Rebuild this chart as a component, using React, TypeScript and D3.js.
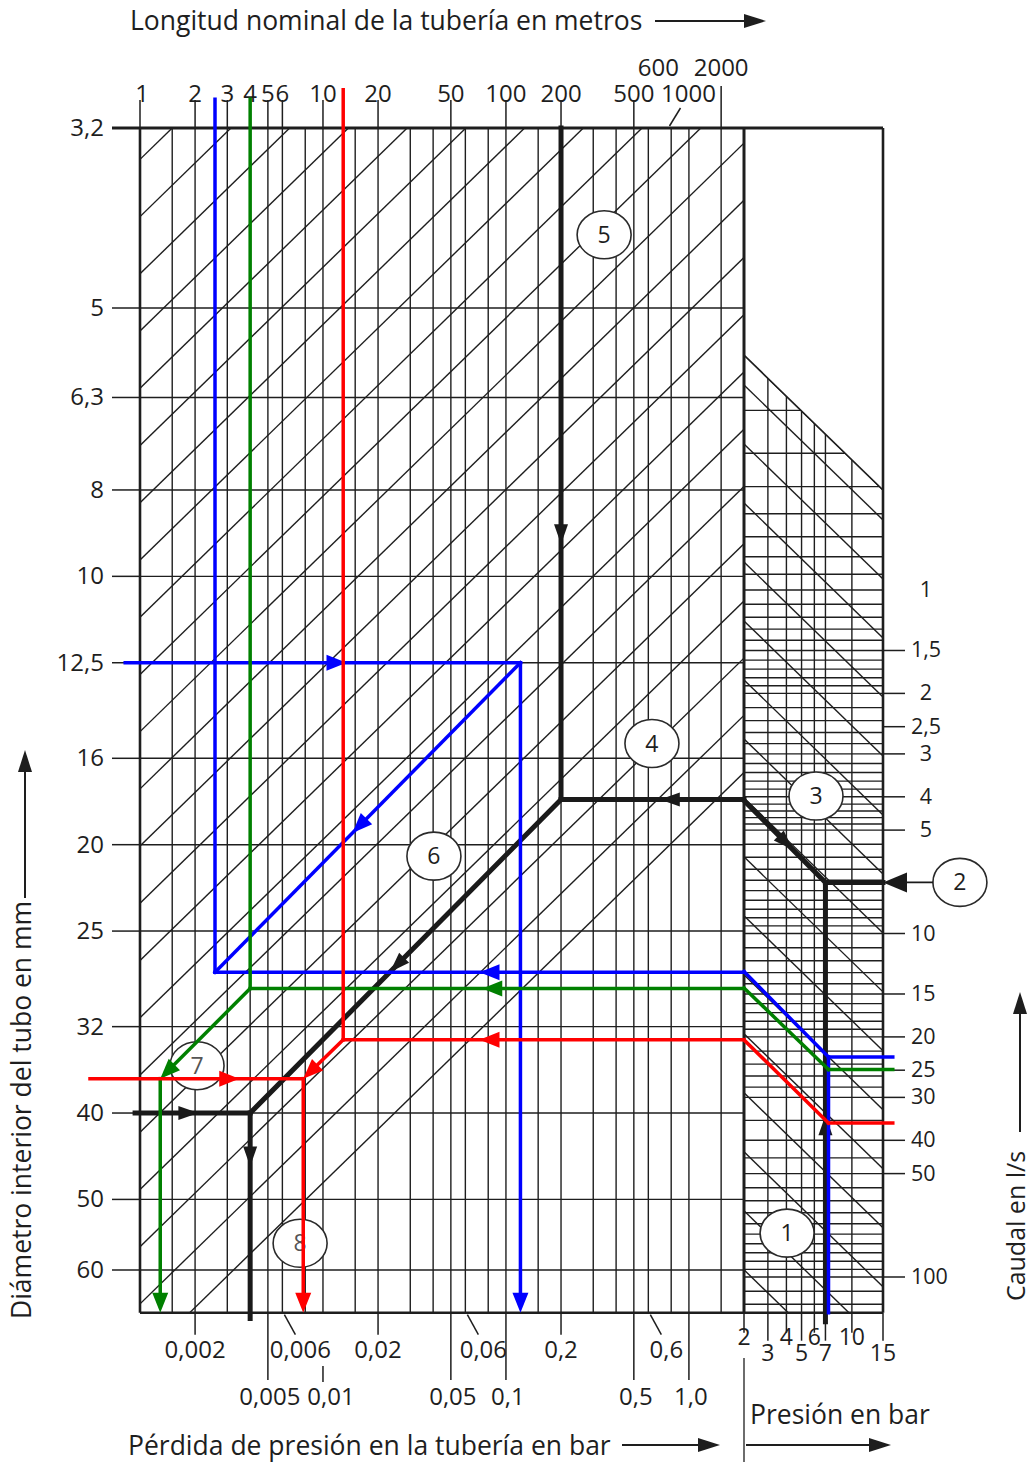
import React, { useEffect, useRef } from 'react';
import * as d3 from 'd3';

// left axis: inner pipe diameter in mm
const diameters = [3.2, 5, 6.3, 8, 10, 12.5, 16, 20, 25, 32, 40, 50, 60];
const diameterLabels = ['3,2', '5', '6,3', '8', '10', '12,5', '16', '20', '25', '32', '40', '50', '60'];

// top axis: nominal pipe length in m
const lengths = [1, 2, 3, 4, 5, 6, 10, 20, 50, 100, 200, 500, 600, 1000, 2000];

// bottom axis: pressure loss in bar (two label rows)
const lossRow1 = [0.002, 0.006, 0.02, 0.06, 0.2, 0.6];
const lossRow1Labels = ['0,002', '0,006', '0,02', '0,06', '0,2', '0,6'];
const lossRow2 = [0.005, 0.01, 0.05, 0.1, 0.5, 1.0];
const lossRow2Labels = ['0,005', '0,01', '0,05', '0,1', '0,5', '1,0'];

// bottom right: operating pressure in bar
const pressures = [2, 3, 4, 5, 6, 7, 10, 15];

// right axis: flow in l/s
const flows = [1, 1.5, 2, 2.5, 3, 4, 5, 10, 15, 20, 25, 30, 40, 50, 100];
const flowLabels = ['1', '1,5', '2', '2,5', '3', '4', '5', '10', '15', '20', '25', '30', '40', '50', '100'];

// grid lines
const lossMantissas = [1, 1.5, 2, 3, 4, 5, 6, 8];
const pressureGrid = [3, 4, 5, 6, 7, 10];
const flowGrid = [
  0.3, 0.4, 0.5, 0.6, 0.7, 0.8, 0.9, 1, 1.1, 1.2, 1.3, 1.4, 1.5, 1.6, 1.7, 1.8, 1.9, 2,
  2.2, 2.4, 2.6, 2.8, 3, 3.2, 3.4, 3.6, 3.8, 4, 4.2, 4.4, 4.6, 4.8, 5, 5.5, 6, 6.5, 7, 7.5,
  8, 8.5, 9, 9.5, 10, 11, 12, 13, 14, 15, 16, 17, 18, 19, 20, 22, 24, 26, 28, 30, 35, 40,
  45, 50, 55, 60, 65, 70, 75, 80, 85, 90, 95, 100, 110, 120,
];

// worked examples: main panel points are [loss bar, diameter mm], right panel [pressure bar, flow l/s]
type Seg = { panel: 'main' | 'right'; from: [number, number]; to: [number, number]; arrow?: number };

const blackRoute: Seg[] = [
  { panel: 'main', from: [0.2, 3.2], to: [0.2, 17.8], arrow: 0.62 },
  { panel: 'main', from: [2, 17.8], to: [0.2, 17.8], arrow: 0.46 },
  { panel: 'right', from: [2, 4.1], to: [7, 7.1], arrow: 0.6 },
  { panel: 'right', from: [15, 7.1], to: [7, 7.1] },
  { panel: 'right', from: [7, 135], to: [7, 7.1], arrow: 0.47 },
  { panel: 'main', from: [0.2, 17.8], to: [0.004, 40], arrow: 0.55 },
  { panel: 'main', from: [0.00094, 40], to: [0.004, 40], arrow: 0.55 },
  { panel: 'main', from: [0.004, 40], to: [0.004, 68], arrow: 0.26 },
];
const pointerRoute: Seg[] = [{ panel: 'right', from: [28, 7.1], to: [15, 7.1], arrow: 1 }];

const blueRoute: Seg[] = [
  { panel: 'main', from: [0.00257, 2.98], to: [0.00257, 27.8] },
  { panel: 'main', from: [2, 27.8], to: [0.00257, 27.8], arrow: 0.5 },
  { panel: 'right', from: [2, 12.9], to: [7.3, 22.9] },
  { panel: 'right', from: [7.3, 22.9], to: [17, 22.9] },
  { panel: 'right', from: [7.3, 22.9], to: [7.3, 127] },
  { panel: 'main', from: [0.12, 12.5], to: [0.00257, 27.8], arrow: 0.55 },
  { panel: 'main', from: [0.00083, 12.5], to: [0.12, 12.5], arrow: 0.56 },
  { panel: 'main', from: [0.12, 12.5], to: [0.12, 67], arrow: 1 },
];
const greenRoute: Seg[] = [
  { panel: 'main', from: [0.004, 2.98], to: [0.004, 29] },
  { panel: 'main', from: [2, 29], to: [0.004, 29], arrow: 0.53 },
  { panel: 'right', from: [2, 14.4], to: [7.3, 24.9] },
  { panel: 'right', from: [7.3, 24.9], to: [17, 24.9] },
  { panel: 'main', from: [0.004, 29], to: [0.00129, 36.6], arrow: 1 },
  { panel: 'main', from: [0.00129, 36.6], to: [0.00129, 67], arrow: 1 },
];
const redRoute: Seg[] = [
  { panel: 'main', from: [0.0129, 2.91], to: [0.0129, 33.1] },
  { panel: 'main', from: [2, 33.1], to: [0.0129, 33.1], arrow: 0.66 },
  { panel: 'right', from: [2, 20.4], to: [7.3, 35.6] },
  { panel: 'right', from: [7.3, 35.6], to: [17, 35.6] },
  { panel: 'main', from: [0.0129, 33.1], to: [0.0078, 36.6], arrow: 1 },
  { panel: 'main', from: [0.000533, 36.6], to: [0.0078, 36.6], arrow: 0.7 },
  { panel: 'main', from: [0.0078, 36.6], to: [0.0078, 67], arrow: 1 },
];

// numbered step markers
const markers: { n: string; panel: 'main' | 'right'; at: [number, number] }[] = [
  { n: '1', panel: 'right', at: [4.04, 74.5] },
  { n: '2', panel: 'right', at: [39.4, 7.1] },
  { n: '3', panel: 'right', at: [6.14, 3.98] },
  { n: '4', panel: 'main', at: [0.628, 15.4] },
  { n: '5', panel: 'main', at: [0.344, 4.17] },
  { n: '6', panel: 'main', at: [0.0404, 20.6] },
  { n: '7', panel: 'main', at: [0.00205, 35.4] },
  { n: '8', panel: 'main', at: [0.0075, 56] },
];

const FONT = '"Open Sans", "Noto Sans", sans-serif';
const INK = '#1e1e1e';
const TICK = 24;
const TITLE = 26.5;

const App = () => {
  const ref = useRef<SVGSVGElement>(null);

  useEffect(() => {
    document.body.style.margin = '0';
    const svg = d3.select(ref.current);
    svg.selectAll('*').remove();

    // scales
    const x = d3.scaleLog().domain([0.001, 2]).range([140, 744]); // pressure loss
    const y = d3.scaleLog().domain([3.2, 5, 60]).range([128, 308, 1270]); // diameter
    const px = d3.scaleLog().domain([3, 16]).range([744, 883]); // absolute pressure (p + 1)
    const qy = d3.scaleLog().domain([1, 100]).range([590, 1277]); // flow
    const lenX = d3.scaleLog().domain([1, 500, 2000]).range([x(0.001), x(0.5), x(1.5)]);

    const top = y(3.2);
    const bottom = y(67);
    const left = x(0.001);
    const mid = x(2);
    const right = px(16);

    const pt = (panel: 'main' | 'right', v: [number, number]): [number, number] =>
      panel === 'main' ? [x(v[0]), y(v[1])] : [px(v[0] + 1), qy(v[1])];

    const defs = svg.append('defs');
    defs.append('clipPath').attr('id', 'clip-main')
      .append('rect').attr('x', left).attr('y', top).attr('width', mid - left).attr('height', bottom - top);

    // right panel boundary follows a constant Q^1.85/p line
    const diag = (q0: number, p: number) => q0 * Math.pow((p + 1) / 3, 1 / 1.85);
    const boundaryQ = 0.207;
    const rightPoly: [number, number][] = [
      [mid, qy(boundaryQ)], [right, qy(diag(boundaryQ, 15))], [right, bottom], [mid, bottom],
    ];
    defs.append('clipPath').attr('id', 'clip-right')
      .append('polygon').attr('points', rightPoly.map(p => p.join(',')).join(' '));

    svg.append('rect').attr('width', 1034).attr('height', 1465).attr('fill', '#fff');

    // ---- main panel grid
    const gMain = svg.append('g').attr('clip-path', 'url(#clip-main)')
      .attr('stroke', INK).attr('stroke-width', 1.4).attr('fill', 'none');

    const lossGrid = d3.range(-3, 1).flatMap(e => lossMantissas.map(m => m * Math.pow(10, e)));
    gMain.selectAll('.vgrid').data(lossGrid).enter().append('line')
      .attr('x1', d => x(d)).attr('x2', d => x(d)).attr('y1', top).attr('y2', bottom);
    gMain.selectAll('.hgrid').data(diameters.slice(1)).enter().append('line')
      .attr('x1', left).attr('x2', mid).attr('y1', d => y(d)).attr('y2', d => y(d));

    // diagonal hatch: constant loss * d^5
    const k = 5 * (x(0.01) - x(0.001)) / (y(50) - y(5));
    const x0 = x(0.0015);
    const hatchStep = x(0.001 * 2.094) - x(0.001);
    gMain.selectAll('.diag').data(d3.range(0, 22)).enter().append('line')
      .attr('x1', i => x0 + i * hatchStep).attr('y1', top)
      .attr('x2', i => x0 + i * hatchStep - (bottom - top) * k).attr('y2', bottom);

    // ---- right panel grid
    const gRight = svg.append('g').attr('clip-path', 'url(#clip-right)')
      .attr('stroke', INK).attr('stroke-width', 1.4).attr('fill', 'none');
    gRight.selectAll('.vgrid').data(pressureGrid).enter().append('line')
      .attr('x1', d => px(d + 1)).attr('x2', d => px(d + 1)).attr('y1', top).attr('y2', bottom);
    gRight.selectAll('.hgrid').data(flowGrid).enter().append('line')
      .attr('x1', mid).attr('x2', right).attr('y1', d => qy(d)).attr('y2', d => qy(d));
    const rightDiags = [boundaryQ, ...d3.range(0, 17).map(i => 0.253 * Math.pow(1.485, i))];
    gRight.selectAll('.diag').data(rightDiags).enter().append('line')
      .attr('x1', mid).attr('y1', d => qy(d))
      .attr('x2', right).attr('y2', d => qy(diag(d, 15)));
    svg.append('line')
      .attr('x1', rightPoly[0][0]).attr('y1', rightPoly[0][1])
      .attr('x2', rightPoly[1][0]).attr('y2', rightPoly[1][1])
      .attr('stroke', INK).attr('stroke-width', 1.6);

    // ---- frame
    const frame = svg.append('g').attr('stroke', INK).attr('fill', 'none');
    frame.append('line').attr('x1', 112).attr('x2', right).attr('y1', top).attr('y2', top).attr('stroke-width', 3);
    frame.append('line').attr('x1', left).attr('x2', right).attr('y1', bottom).attr('y2', bottom).attr('stroke-width', 2.6);
    frame.append('line').attr('x1', left).attr('x2', left).attr('y1', top).attr('y2', bottom).attr('stroke-width', 2.6);
    frame.append('line').attr('x1', mid).attr('x2', mid).attr('y1', top).attr('y2', bottom).attr('stroke-width', 3);
    frame.append('line').attr('x1', right).attr('x2', right).attr('y1', top).attr('y2', bottom).attr('stroke-width', 2.6);

    const text = (g: any, tx: number, ty: number, s: string, anchor = 'middle', size = TICK) =>
      g.append('text').attr('x', tx).attr('y', ty).attr('text-anchor', anchor)
        .attr('font-family', FONT).attr('font-size', size).attr('fill', INK).attr('stroke', 'none').text(s);

    // ---- left axis
    const gLeft = svg.append('g');
    diameters.forEach((d, i) => {
      gLeft.append('line').attr('x1', 112).attr('x2', left).attr('y1', y(d)).attr('y2', y(d))
        .attr('stroke', INK).attr('stroke-width', 1.5);
      text(gLeft, 104, y(d) + 8, diameterLabels[i], 'end');
    });

    // ---- top axis
    const gTop = svg.append('g').attr('stroke', INK).attr('stroke-width', 1.5);
    lengths.forEach(v => {
      const lx = lenX(v);
      if (v === 1000) {
        gTop.append('line').attr('x1', lx - 8).attr('y1', top - 2).attr('x2', lx + 3).attr('y2', top - 20);
      } else if (v === 2000) {
        gTop.append('line').attr('x1', lx).attr('x2', lx).attr('y1', 86).attr('y2', top);
      } else if (v !== 600) {
        gTop.append('line').attr('x1', lx).attr('x2', lx).attr('y1', 100).attr('y2', top);
      }
      const upper = v === 600 || v === 2000;
      const dx = v === 600 ? 13 : v === 1000 ? 11 : v === 1 ? 2 : 0;
      text(svg, lx + dx, upper ? 76 : 102, String(v));
    });

    // ---- bottom axis: pressure loss
    const gBot = svg.append('g').attr('stroke', INK).attr('stroke-width', 1.5);
    lossRow1.forEach((v, i) => {
      const bx = x(v);
      const slanted = lossRow1Labels[i].endsWith('6');
      if (slanted) {
        gBot.append('line').attr('x1', bx + 2).attr('y1', bottom + 2).attr('x2', bx + 13).attr('y2', bottom + 22);
      } else {
        gBot.append('line').attr('x1', bx).attr('x2', bx).attr('y1', bottom).attr('y2', bottom + 22);
      }
      text(svg, bx + (slanted ? 18 : 0), 1358, lossRow1Labels[i]);
    });
    lossRow2.forEach((v, i) => {
      const bx = x(v);
      if (v === 0.01) {
        gBot.append('line').attr('x1', bx).attr('x2', bx).attr('y1', 1366).attr('y2', 1382);
      } else {
        gBot.append('line').attr('x1', bx).attr('x2', bx).attr('y1', bottom).attr('y2', 1380);
      }
      text(svg, bx + (v === 0.01 ? 8 : 2), 1405, lossRow2Labels[i]);
    });

    // ---- bottom axis: operating pressure
    pressures.forEach((p, i) => {
      const bx = px(p + 1);
      gBot.append('line').attr('x1', bx).attr('x2', bx).attr('y1', bottom).attr('y2', bottom + (i % 2 ? 28 : 20));
      text(svg, bx, i % 2 ? 1361 : 1345, String(p), 'middle', 23);
    });
    gBot.append('line').attr('x1', mid).attr('x2', mid).attr('y1', 1358).attr('y2', 1462).attr('stroke-width', 1.3);

    // ---- right axis: flow
    flows.forEach((q, i) => {
      if (q !== 1) {
        svg.append('line').attr('x1', right).attr('x2', 905).attr('y1', qy(q)).attr('y2', qy(q))
          .attr('stroke', INK).attr('stroke-width', 1.5);
      }
      const lab = flowLabels[i];
      if (lab.length === 1) text(svg, 926, qy(q) + 7, lab, 'middle', 21.5);
      else text(svg, 911, qy(q) + 7, lab, 'start', 21.5);
    });

    // ---- arrowhead helper
    const head = (g: any, tip: [number, number], dir: [number, number], len: number, hw: number, color: string) => {
      const [dx, dy] = dir;
      const bx = tip[0] - dx * len;
      const by = tip[1] - dy * len;
      g.append('path')
        .attr('d', `M${tip[0]},${tip[1]}L${bx - dy * hw},${by + dx * hw}L${bx + dy * hw},${by - dx * hw}Z`)
        .attr('fill', color).attr('stroke', 'none');
    };

    // ---- axis titles
    text(svg, 130, 30, 'Longitud nominal de la tubería en metros', 'start', TITLE);
    svg.append('line').attr('x1', 655).attr('x2', 745).attr('y1', 21).attr('y2', 21).attr('stroke', INK).attr('stroke-width', 2);
    head(svg, [766, 21], [1, 0], 22, 7, INK);

    text(svg, 128, 1455, 'Pérdida de presión en la tubería en bar', 'start', TITLE);
    svg.append('line').attr('x1', 622).attr('x2', 700).attr('y1', 1445).attr('y2', 1445).attr('stroke', INK).attr('stroke-width', 2);
    head(svg, [720, 1445], [1, 0], 22, 7, INK);

    text(svg, 750, 1424, 'Presión en bar', 'start', TITLE);
    svg.append('line').attr('x1', 746).attr('x2', 870).attr('y1', 1445).attr('y2', 1445).attr('stroke', INK).attr('stroke-width', 2);
    head(svg, [891, 1445], [1, 0], 22, 7, INK);

    text(svg, 0, 0, 'Diámetro interior del tubo en mm', 'middle', TITLE)
      .attr('transform', 'translate(31,1110) rotate(-90)');
    svg.append('line').attr('x1', 25).attr('x2', 25).attr('y1', 898).attr('y2', 770).attr('stroke', INK).attr('stroke-width', 2);
    head(svg, [25, 750], [0, -1], 22, 7, INK);

    text(svg, 0, 0, 'Caudal en l/s', 'middle', 25)
      .attr('transform', 'translate(1025,1226) rotate(-90)');
    svg.append('line').attr('x1', 1020).attr('x2', 1020).attr('y1', 1132).attr('y2', 1012).attr('stroke', INK).attr('stroke-width', 2);
    head(svg, [1020, 992], [0, -1], 22, 7, INK);

    // ---- step markers
    const gMark = svg.append('g');
    markers.forEach(m => {
      const [cx, cy] = pt(m.panel, m.at);
      gMark.append('ellipse').attr('cx', cx).attr('cy', cy).attr('rx', 27).attr('ry', 24)
        .attr('fill', '#fff').attr('stroke', '#2a2a2a').attr('stroke-width', 1.6);
      text(gMark, cx, cy + 8, m.n, 'middle', 23).attr('fill', m.n === '7' || m.n === '8' ? '#555' : INK);
    });

    // ---- routes
    const drawRoute = (segs: Seg[], color: string, width: number, hl: number, hw: number) => {
      const g = svg.append('g');
      segs.forEach(s => {
        const a = pt(s.panel, s.from);
        const b = pt(s.panel, s.to);
        const len = Math.hypot(b[0] - a[0], b[1] - a[1]);
        const dir: [number, number] = [(b[0] - a[0]) / len, (b[1] - a[1]) / len];
        const end: [number, number] = s.arrow === 1 ? [b[0] - dir[0] * hl * 0.8, b[1] - dir[1] * hl * 0.8] : b;
        g.append('line').attr('x1', a[0]).attr('y1', a[1]).attr('x2', end[0]).attr('y2', end[1])
          .attr('stroke', color).attr('stroke-width', width).attr('stroke-linecap', 'square');
        if (s.arrow !== undefined) {
          const tip: [number, number] = [a[0] + (b[0] - a[0]) * s.arrow, a[1] + (b[1] - a[1]) * s.arrow];
          head(g, tip, dir, hl, hw, color);
        }
      });
    };

    drawRoute(blackRoute, '#1a1a1a', 5, 20, 7);
    drawRoute(pointerRoute, '#1a1a1a', 1.6, 24, 10);
    drawRoute(blueRoute, '#0000ff', 3.5, 20, 8);
    drawRoute(greenRoute, '#008000', 3.5, 20, 8);
    drawRoute(redRoute, '#ff0000', 3.5, 20, 8);
  }, []);

  return <svg ref={ref} width={1034} height={1465} style={{ display: 'block' }} />;
};

export default App;
